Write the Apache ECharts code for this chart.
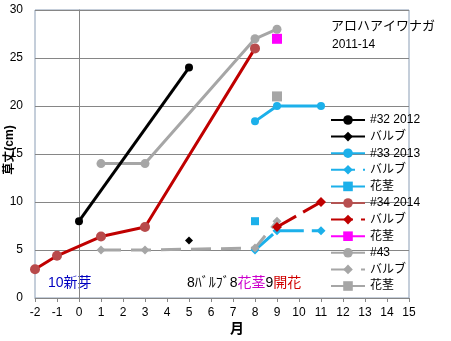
<!DOCTYPE html>
<html>
<head>
<meta charset="utf-8">
<script src="https://cdn.jsdelivr.net/npm/echarts@6/dist/echarts.min.js"></script>
<style>
  html, body { margin: 0; padding: 0; background: #fff; }
  #chart { width: 451px; height: 341px; }
</style>
</head>
<body>
<div id="chart"></div>
<script>
// Plant height (cm) by month, pairs of [month, height]
const s32Height   = [[0, 8], [5, 24]];
const s32Bulb     = [[5, 6]];
const s33Height   = [[8, 18.4], [9, 20], [11, 20]];
const s33Bulb     = [[8, 5], [9, 7], [11, 7]];
const s33Stalk    = [[8, 8]];
const s34Height   = [[-2, 3], [-1, 4.4], [1, 6.4], [3, 7.4], [8, 26]];
const s34Bulb     = [[9, 7.4], [11, 10]];
const s34Stalk    = [[9, 27]];
const s43Height   = [[1, 14], [3, 14], [8, 27], [9, 28]];
const s43Bulb     = [[1, 5], [3, 5], [8, 5.2], [9, 8]];
const s43Stalk    = [[9, 21]];

const seriesNames = ['#32 2012', 'バルブ', '#33 2013', 'バルブ ', '花茎', '#34 2014', 'バルブ  ', '花茎 ', '#43', 'バルブ   ', '花茎  '];

const xMin = -2, xMax = 15, yMin = 0, yMax = 30;

const FONT = '"Liberation Sans", "Noto Sans CJK JP", sans-serif';
const BLACK = '#000000', BLUE = '#1cb0ea', RED = '#c00000', RED_MK = '#b84a4b',
      MAGENTA = '#ff00ff', GRAY = '#a6a6a6';

function lineSeries(name, data, color, symbol, size, opts) {
  opts = opts || {};
  return {
    name: name,
    type: 'line',
    data: data,
    symbol: symbol,
    symbolSize: size,
    showSymbol: true,
    smooth: false,
    animation: false,
    z: opts.z || 2,
    itemStyle: { color: opts.markerColor || color, opacity: 1 },
    lineStyle: { color: color, width: opts.width || 3, type: opts.dash || 'solid' },
    emphasis: { disabled: true }
  };
}

const chart = echarts.init(document.getElementById('chart'), null, { renderer: 'canvas' });

chart.setOption({
  animation: false,
  backgroundColor: '#ffffff',
  grid: {
    left: 35, top: 10, right: 42, bottom: 43,
    show: true, borderColor: '#8a9db5', borderWidth: 1, backgroundColor: 'transparent'
  },
  xAxis: {
    type: 'value', min: xMin, max: xMax, interval: 1,
    axisLine: { show: true, lineStyle: { color: '#868686', width: 1 } },
    axisTick: { show: true, length: 4, lineStyle: { color: '#868686' } },
    axisLabel: { color: '#000', fontSize: 12, fontFamily: FONT, margin: 9 },
    splitLine: { show: false }
  },
  yAxis: {
    type: 'value', min: yMin, max: yMax, interval: 5,
    axisLine: { show: true, onZero: true, lineStyle: { color: '#868686', width: 1 } },
    axisTick: { show: false },
    axisLabel: { color: '#000', fontSize: 12, fontFamily: FONT, margin: 12 },
    splitLine: { show: true, lineStyle: { color: '#868686', width: 1 } }
  },
  legend: {
    orient: 'vertical', left: 330, top: 114, padding: 0,
    itemWidth: 34, itemHeight: 12, itemGap: 4.6,
    selectedMode: false,
    textStyle: { color: '#000', fontSize: 12, fontFamily: FONT },
    data: [
      { name: seriesNames[0] },
      { name: seriesNames[1] },
      { name: seriesNames[2] },
      { name: seriesNames[3] },
      { name: seriesNames[4] },
      { name: seriesNames[5], lineStyle: { color: '#b35452' }, itemStyle: { color: '#b84f50' } },
      { name: seriesNames[6] },
      { name: seriesNames[7] },
      { name: seriesNames[8] },
      { name: seriesNames[9] },
      { name: seriesNames[10] }
    ],
    formatter: function (n) { return n.trim(); }
  },
  series: [
    lineSeries(seriesNames[0], s32Height, BLACK, 'circle', 8, { z: 3 }),
    lineSeries(seriesNames[1], s32Bulb, BLACK, 'diamond', 8),
    lineSeries(seriesNames[2], s33Height, BLUE, 'circle', 8),
    lineSeries(seriesNames[3], s33Bulb, BLUE, 'diamond', 9, { dash: [24, 8] }),
    lineSeries(seriesNames[4], s33Stalk, BLUE, 'rect', 8),
    lineSeries(seriesNames[5], s34Height, RED, 'circle', 10, { markerColor: RED_MK, z: 4 }),
    lineSeries(seriesNames[6], s34Bulb, RED, 'diamond', 10, { dash: [22, 8], z: 4 }),
    lineSeries(seriesNames[7], s34Stalk, MAGENTA, 'rect', 10),
    lineSeries(seriesNames[8], s43Height, GRAY, 'circle', 9),
    lineSeries(seriesNames[9], s43Bulb, GRAY, 'diamond', 9, { dash: [20, 10] }),
    lineSeries(seriesNames[10], s43Stalk, GRAY, 'rect', 10)
  ],
  graphic: [
    {
      type: 'text', x: 331, y: 25,
      style: { text: 'アロハアイワナガ', fill: '#000', font: '13px "Noto Sans CJK JP", sans-serif', verticalAlign: 'middle' }
    },
    {
      type: 'text', x: 332, y: 45,
      style: { text: '2011-14', fill: '#000', font: '12px ' + FONT, verticalAlign: 'middle' }
    },
    {
      type: 'text', x: 10, y: 150, rotation: Math.PI / 2,
      style: { text: '草丈(cm)', fill: '#000', font: 'bold 12px ' + FONT, align: 'center', verticalAlign: 'middle' }
    },
    {
      type: 'text', x: 237, y: 328,
      style: { text: '月', fill: '#000', font: 'bold 14px "Noto Sans CJK JP", sans-serif', align: 'center', verticalAlign: 'middle' }
    },
    {
      type: 'text', x: 48, y: 283,
      style: { text: '10新芽', fill: '#0000c0', font: '14px ' + FONT, verticalAlign: 'middle' }
    },
    {
      type: 'text', x: 187, y: 283,
      style: {
        text: '{k|8ﾊﾞﾙﾌﾞ8}{m|花茎}{k|9}{r|開花}',
        verticalAlign: 'middle',
        font: '14px ' + FONT,
        rich: {
          k: { fill: '#000', fontSize: 14, fontFamily: FONT },
          m: { fill: '#cc00cc', fontSize: 14, fontFamily: FONT },
          r: { fill: '#d00000', fontSize: 14, fontFamily: FONT }
        }
      }
    }
  ]
});
</script>
</body>
</html>
